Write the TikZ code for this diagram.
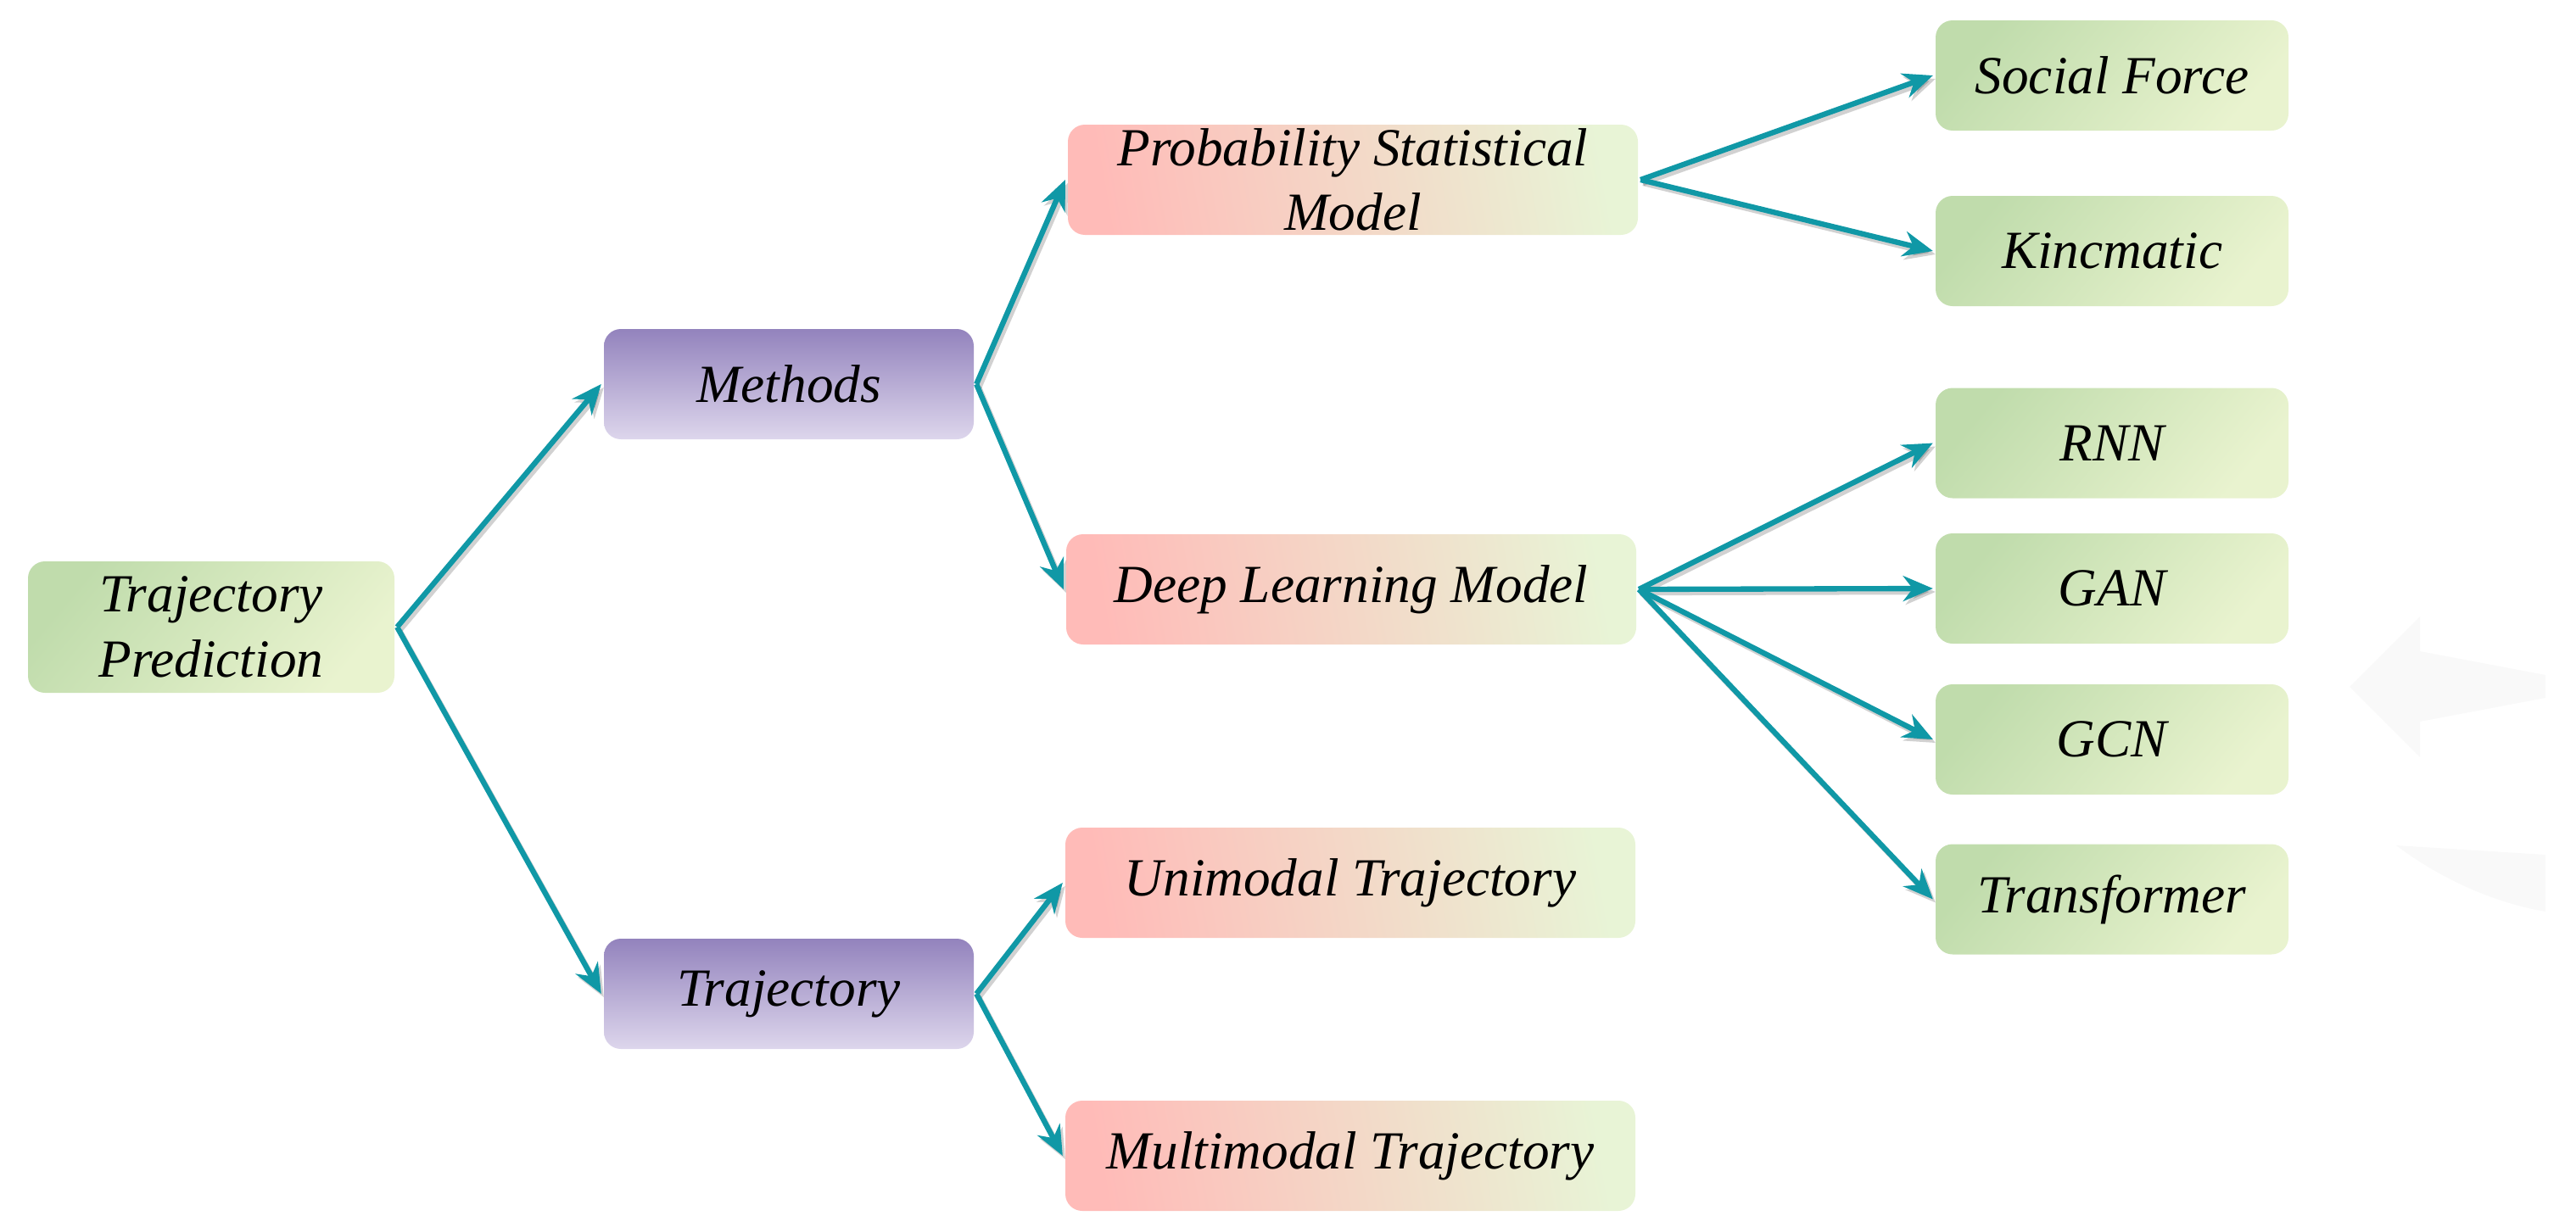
\documentclass[tikz,border=0pt]{standalone}
\usepackage{fontspec}
\setmainfont{Liberation Serif}
\usetikzlibrary{arrows.meta, positioning}

\definecolor{linkteal}{HTML}{1098A6}
\definecolor{greenA}{HTML}{C0DCAC}
\definecolor{greenB}{HTML}{E9F3CF}
\definecolor{purpleT}{HTML}{9383BD}
\definecolor{purpleB}{HTML}{DDD6EC}
\definecolor{pinkL}{HTML}{FFBBB8}
\definecolor{pinkR}{HTML}{E8F4D6}
\definecolor{ghost}{HTML}{F9F9F9}

\begin{document}
\begin{tikzpicture}[->,>={Stealth[length=10pt,width=8.5pt]},line width=1.8pt,
        box/.style={rounded corners=0.2cm,inner sep=0pt,align=center,minimum height=1.3cm,
            font=\fontsize{18}{21.8}\selectfont\itshape},
        green node/.style={box,minimum width=4.16cm,top color=greenA,bottom color=greenB,shading angle=50},
        purple node/.style={box,minimum width=4.36cm,top color=purpleT,bottom color=purpleB},
        pink node/.style={box,minimum width=6.72cm,left color=pinkL,right color=pinkR,shading angle=100},
        link/.style={draw=linkteal,preaction={draw=black,opacity=0.18,transform canvas={shift={(0.03,-0.04)}}}}]
        \useasboundingbox (0,0) rectangle (30.37,-14.46);

        % faint backdrop shape
        \fill[ghost,draw=none] (27.70,-8.10) -- (28.53,-7.27) -- (28.53,-7.68) -- (30.01,-7.96)
            -- (30.01,-8.23) -- (28.53,-8.51) -- (28.53,-8.93) -- cycle;
        \fill[ghost,draw=none] (28.25,-9.97) -- (30.01,-10.08) -- (30.01,-10.75)
            .. controls (29.40,-10.65) and (28.75,-10.35) .. cycle;

        \node[green node,minimum width=4.32cm,minimum height=1.55cm] (tp) at (2.49,-7.395) {Trajectory\\Prediction};
        \node[purple node] (methods) at (9.30,-4.53) {Methods};
        \node[purple node] (traj) at (9.30,-11.72) {Trajectory};

        \node[pink node] (psm) at (15.95,-2.12) {Probability Statistical\\Model};
        \node[pink node] (dlm) at (15.93,-6.95) {Deep Learning Model};
        \node[pink node] (uni) at (15.92,-10.41) {Unimodal Trajectory};
        \node[pink node] (multi) at (15.92,-13.63) {Multimodal Trajectory};

        \node[green node] (sf) at (24.90,-0.89) {Social Force};
        \node[green node] (kin) at (24.90,-2.96) {Kincmatic};
        \node[green node] (rnn) at (24.90,-5.225) {RNN};
        \node[green node] (gan) at (24.90,-6.94) {GAN};
        \node[green node] (gcn) at (24.90,-8.72) {GCN};
        \node[green node] (trans) at (24.90,-10.605) {Transformer};

        \path
        (tp.east) edge[link] (methods.west)
        (tp.east) edge[link] (traj.west)
        (methods.east) edge[link] (psm.west)
        (methods.east) edge[link] (dlm.west)
        (traj.east) edge[link] (uni.west)
        (traj.east) edge[link] (multi.west)
        (psm.east) edge[link] (sf.west)
        (psm.east) edge[link] (kin.west)
        (dlm.east) edge[link] (rnn.west)
        (dlm.east) edge[link] (gan.west)
        (dlm.east) edge[link] (gcn.west)
        (dlm.east) edge[link] (trans.west);
    \end{tikzpicture}
\end{document}
